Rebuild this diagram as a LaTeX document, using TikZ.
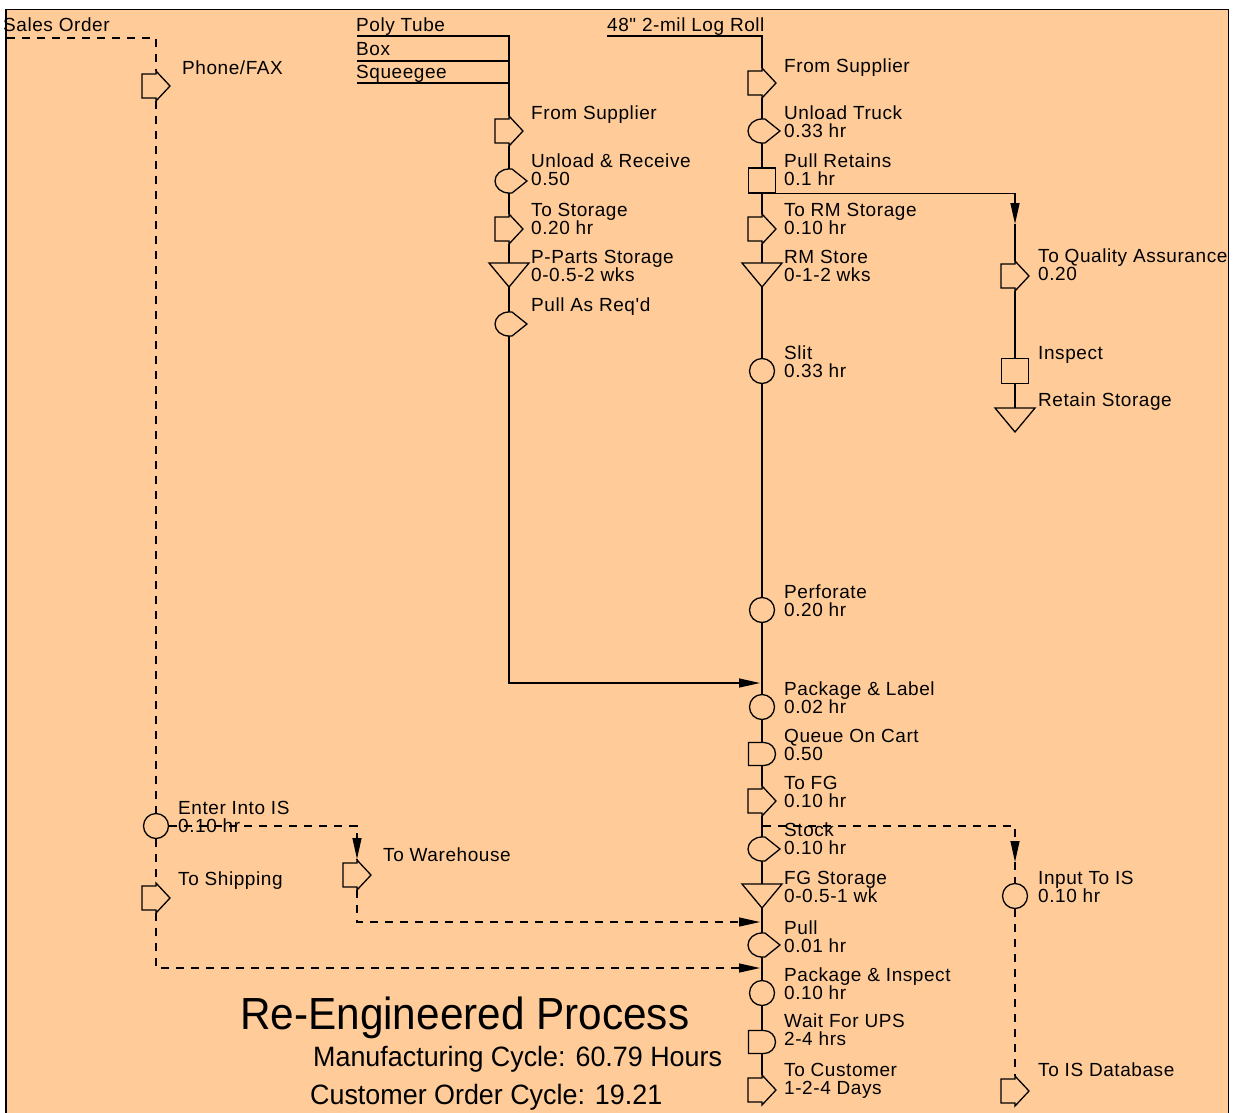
\documentclass[tikz,border=0pt]{standalone}
\usepackage{fontspec}
\setmainfont{Liberation Sans}
\newfontfamily\lblfont{Liberation Sans}[LetterSpace=3]
\newfontfamily\ttlfont{Liberation Sans}
\usetikzlibrary{arrows.meta,shapes.misc}
\definecolor{bgor}{RGB}{255,204,153}
\tikzset{
  ln/.style={line width=1.3pt},
  dsh/.style={line width=1.3pt, dash pattern=on 8pt off 7pt},
  symb/.style={draw=black, fill=bgor, line width=1.3pt},
  opnode/.style={symb, circle, minimum size=25pt, inner sep=0pt},
  inspnode/.style={symb, rectangle, minimum width=27pt, minimum height=25pt, inner sep=0pt},
  delaynode/.style={symb, rounded rectangle, rounded rectangle left arc=none, minimum width=27pt, minimum height=23pt, inner sep=0pt},
  phnode/.style={rectangle, draw=none, fill=none, inner sep=0pt},
  trnode/.style={phnode, minimum width=28pt, minimum height=30pt},
  cbnode/.style={phnode, minimum width=28pt, minimum height=24pt},
  stnode/.style={phnode, minimum width=40pt, minimum height=24pt},
  lbl/.style={anchor=base west, inner sep=0pt, align=left, font={\lblfont\fontsize{19}{18}\selectfont}},
  lbltwo/.style={lbl, yshift=-18pt},
  ttl/.style={anchor=base west, inner sep=0pt, font={\ttlfont\fontsize{45}{45}\selectfont}},
  sub/.style={anchor=base west, inner sep=0pt, font={\ttlfont\fontsize{28}{28}\selectfont}},
}
\newcommand\TrSym[1]{\draw[symb] ([shift={(-14,-12)}]#1.center) -- ([shift={(0,-12)}]#1.center) -- ([shift={(0,-15)}]#1.center) -- ([shift={(14,0)}]#1.center) -- ([shift={(0,15)}]#1.center) -- ([shift={(0,12)}]#1.center) -- ([shift={(-14,12)}]#1.center) -- cycle;}
\newcommand\CbSym[1]{\draw[symb] ([shift={(3,-12)}]#1.center) -- ([shift={(18,0)}]#1.center) -- ([shift={(3,12)}]#1.center) -- ([shift={(0,12)}]#1.center) arc[start angle=90,end angle=270,x radius=14,y radius=12] -- cycle;}
\newcommand\StSym[1]{\draw[symb] ([shift={(-20,-12)}]#1.center) -- ([shift={(20,-12)}]#1.center) -- ([shift={(0,12)}]#1.center) -- cycle;}
\begin{document}
\begin{tikzpicture}[x=1pt, y=-1pt, >={Triangle[length=21pt,width=9pt]}, line join=miter]
\useasboundingbox (0,0) rectangle (1234,1112);
\clip (0,0) rectangle (1234,1112);
\fill[white] (0,0) rectangle (1234,1112);
\fill[bgor] (6,9.5) rectangle (1228.5,1130);

% ---------- texts at top ----------
\node[lbl] (so) at (3,31) {Sales Order};
\node[lbl] (pt) at (356,31) {Poly Tube};
\node[lbl] (bx) at (356,55) {Box};
\node[lbl] (sq) at (356,78) {Squeegee};
\node[lbl] (lr) at (607,31) {48" 2-mil Log Roll};
\coordinate (soStart) at (7,38);
\coordinate (ptEnd) at (357,36);
\coordinate (bxEnd) at (357,61);
\coordinate (sqEnd) at (357,83);
\coordinate (lrEnd) at (607,36);

% ---------- left dashed column ----------
\node[trnode] (p1) at (156,86) {};
\node[lbl] (p1l) at (182,74) {Phone/FAX};
\node[opnode] (e1) at (156,826) {};
\node[lbltwo] (e1l) at (178,814) {Enter Into IS\\0.10 hr};
\node[trnode] (t1) at (156,898) {};
\node[lbl] (t1l) at (178,885) {To Shipping};
\node[trnode] (w1) at (357,875) {};
\node[lbl] (w1l) at (383,861) {To Warehouse};
\coordinate (whTip) at (357,859);
\coordinate (jW) at (760,922);
\coordinate (jS) at (760,968);

% ---------- parts column ----------
\node[trnode] (l1) at (509,131) {};
\node[lbl] (l1l) at (531,119) {From Supplier};
\node[cbnode] (l2) at (509,181) {};
\node[lbltwo] (l2l) at (531,167) {Unload \& Receive\\0.50};
\node[trnode] (l3) at (509,229) {};
\node[lbltwo] (l3l) at (531,216) {To Storage\\0.20 hr};
\node[stnode] (l4) at (509,275) {};
\node[lbltwo] (l4l) at (531,263) {P-Parts Storage\\0-0.5-2 wks};
\node[cbnode] (l5) at (509,324) {};
\node[lbl] (l5l) at (531,311) {Pull As Req'd};
\coordinate (jP) at (760,683);

% ---------- main column ----------
\node[trnode] (m1) at (762,83) {};
\node[lbl] (m1l) at (784,72) {From Supplier};
\node[cbnode] (m2) at (762,131) {};
\node[lbltwo] (m2l) at (784,119) {Unload Truck\\0.33 hr};
\node[inspnode] (m3) at (762,180.5) {};
\node[lbltwo] (m3l) at (784,167) {Pull Retains\\0.1 hr};
\node[trnode] (m4) at (762,229) {};
\node[lbltwo] (m4l) at (784,216) {To RM Storage\\0.10 hr};
\node[stnode] (m5) at (762,275) {};
\node[lbltwo] (m5l) at (784,263) {RM Store\\0-1-2 wks};
\node[opnode] (m6) at (762,371) {};
\node[lbltwo] (m6l) at (784,359) {Slit\\0.33 hr};
\node[opnode] (m7) at (762,610) {};
\node[lbltwo] (m7l) at (784,598) {Perforate\\0.20 hr};
\node[opnode] (m8) at (762,707) {};
\node[lbltwo] (m8l) at (784,695) {Package \& Label\\0.02 hr};
\node[delaynode] (m9) at (762,754) {};
\node[lbltwo] (m9l) at (784,742) {Queue On Cart\\0.50};
\node[trnode] (m10) at (762,801) {};
\node[lbltwo] (m10l) at (784,789) {To FG\\0.10 hr};
\coordinate (stTap) at (763,826);
\node[cbnode] (m11) at (762,849) {};
\node[lbltwo] (m11l) at (784,836) {Stock\\0.10 hr};
\node[stnode] (m12) at (762,896) {};
\node[lbltwo] (m12l) at (784,884) {FG Storage\\0-0.5-1 wk};
\node[cbnode] (m13) at (762,945) {};
\node[lbltwo] (m13l) at (784,934) {Pull\\0.01 hr};
\node[opnode] (m14) at (762,993) {};
\node[lbltwo] (m14l) at (784,981) {Package \& Inspect\\0.10 hr};
\node[delaynode] (m15) at (762,1042) {};
\node[lbltwo] (m15l) at (784,1027) {Wait For UPS\\2-4 hrs};
\node[trnode] (m16) at (762,1090) {};
\node[lbltwo] (m16l) at (784,1076) {To Customer\\1-2-4 Days};

% ---------- QA column ----------
\coordinate (qaTip) at (1015,224);
\node[trnode] (q1) at (1015,276) {};
\node[lbltwo] (q1l) at (1038,262) {To Quality Assurance\\0.20};
\node[inspnode] (q2) at (1015,371) {};
\node[lbl] (q2l) at (1038,359) {Inspect};
\node[stnode] (q3) at (1015,420) {};
\node[lbl] (q3l) at (1038,406) {Retain Storage};
\coordinate (isTip) at (1015,862);
\node[opnode] (r1) at (1015,896) {};
\node[lbltwo] (r1l) at (1038,884) {Input To IS\\0.10 hr};
\node[trnode] (r2) at (1015,1091) {};
\node[lbl] (r2l) at (1038,1076) {To IS Database};

% ---------- titles ----------
\node[ttl] (title) at (240,1029) {\scalebox{0.94}[1]{Re-Engineered Process}};
\node[sub] (mfg) at (313,1066) {\scalebox{0.96}[1]{Manufacturing Cycle: 60.79 Hours}};
\node[sub] (coc) at (310,1104) {\scalebox{0.96}[1]{Customer Order Cycle: 19.21}};

% ---------- connectors ----------
\draw[dsh] (soStart) -| (p1.north);
\draw[dsh] (p1.south) -- (e1.north);
\draw[dsh] (e1.south) -- (t1.north);
\draw[dsh,->] (t1.south) |- (jS);
\draw[dsh,->] (e1.east) -| (whTip);
\draw[dsh] (whTip) -- (w1.north);
\draw[dsh,->] (w1.south) |- (jW);

\draw[ln] (ptEnd) -| (l1.north);
\draw[ln] (bxEnd) -- (bxEnd -| l1.north);
\draw[ln] (sqEnd) -- (sqEnd -| l1.north);
\draw[ln] (l1.south) -- (l2.north);
\draw[ln] (l2.south) -- (l3.north);
\draw[ln] (l3.south) -- (l4.north);
\draw[ln] (l4.south) -- (l5.north);
\draw[ln,->] (l5.south) |- (jP);

\draw[ln] (lrEnd) -| (m1.north);
\foreach \a/\b in {m1/m2,m2/m3,m3/m4,m4/m5,m5/m6,m6/m7,m7/m8,m8/m9,m9/m10,m10/m11,m11/m12,m12/m13,m13/m14,m14/m15,m15/m16}
  \draw[ln] (\a.south) -- (\b.north);
\draw[ln,->] (m3.south east) -| (qaTip);
\draw[ln] (qaTip) -- (q1.north);
\draw[ln] (q1.south) -- (q2.north);
\draw[ln] (q2.south) -- (q3.north);
\draw[dsh,->] (stTap) -| (isTip);
\draw[dsh] (isTip) -- (r1.north);
\draw[dsh] (r1.south) -- (r2.north);

% ---------- symbol outlines ----------
\TrSym{p1} \TrSym{t1} \TrSym{w1}
\TrSym{l1} \CbSym{l2} \TrSym{l3} \StSym{l4} \CbSym{l5}
\TrSym{m1} \CbSym{m2} \TrSym{m4} \StSym{m5} \TrSym{m10} \CbSym{m11} \StSym{m12} \CbSym{m13} \TrSym{m16}
\TrSym{q1} \StSym{q3} \TrSym{r2}

% ---------- border ----------
\draw[line width=1.6pt] (6,9.5) rectangle (1228.5,1130);
\end{tikzpicture}
\end{document}
